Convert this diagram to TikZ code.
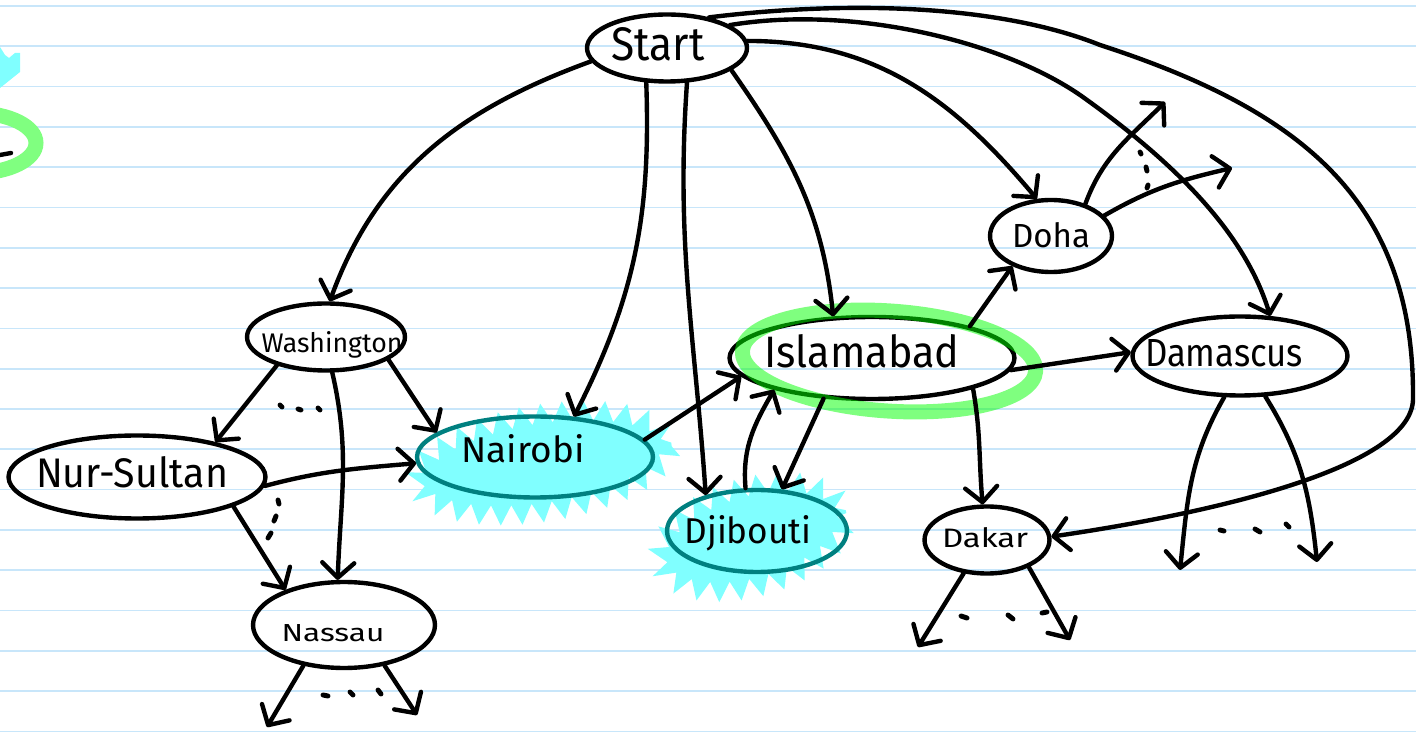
\documentclass[tikz,border=0pt]{standalone}
\usepackage{fontspec}
\setmainfont{Fira Sans}
\usepackage{graphicx}
\usetikzlibrary{arrows.meta,shapes.geometric,decorations.pathmorphing}
\definecolor{paperline}{RGB}{200,230,250}
\definecolor{hlcyan}{RGB}{128,255,255}
\definecolor{hlteal}{RGB}{0,128,128}
\definecolor{hlgreen}{RGB}{0,255,0}
\definecolor{hlgreenlight}{RGB}{128,255,128}
\begin{document}
\begin{tikzpicture}[x=0.02cm,y=-0.02cm,
  city/.style={ellipse, draw, line width=2.5pt, inner sep=0pt},
  lbl/.style={anchor=base, inner sep=0pt},
  edge/.style={line width=2.5pt, line cap=round, line join=round,
    -{Straight Barb[length=3mm,width=6.4mm,round]}},
  dotmark/.style={line width=2.8pt, line cap=round},
  scribble/.style={hlcyan, decorate, decoration={zigzag, segment length=0.42cm, amplitude=0.2cm}},
]
\useasboundingbox (0,0) rectangle (1416,732);
\fill[white] (0,0) rectangle (1416,732);
% ruled paper
\foreach \k in {0,...,18} \draw[paperline, line width=1pt] (0,{6+40.3*\k}) -- (1416,{6+40.3*\k});

% left-edge fragments
\fill[hlcyan] (0,47) -- (5,55) -- (9,58) -- (15,53) -- (20,53) -- (20,72) -- (0,88) -- cycle;
\draw[hlgreenlight, line width=0.3cm] (-24,143) ellipse [x radius=1.2cm, y radius=0.6cm];
\draw[line width=2.5pt, line cap=round] (0,155) -- (11,153);

% cyan highlights
\fill[scribble, rotate around={9:(543,463)}] (543,463) ellipse [x radius=2.6cm, y radius=0.98cm];
\fill[scribble, rotate around={16:(752,537)}] (752,537) ellipse [x radius=1.95cm, y radius=1cm];

% nodes
\node[city, minimum width=3.2cm, minimum height=1.34cm] (start) at (667,48) {};
\node[city, minimum width=3.16cm, minimum height=1.34cm] (wash) at (326,337) {};
\node[city, minimum width=5.14cm, minimum height=1.66cm] (nur) at (137,477) {};
\node[city, minimum width=3.64cm, minimum height=1.72cm] (nassau) at (344,625) {};
\node[city, draw=hlteal, minimum width=4.72cm, minimum height=1.62cm] (nairobi) at (535,457) {};
\node[city, draw=hlteal, minimum width=3.6cm, minimum height=1.64cm] (djib) at (757,531) {};
\node[city, minimum width=5.7cm, minimum height=1.64cm] (isl) at (872,358) {};
\node[city, minimum width=2.44cm, minimum height=1.44cm] (doha) at (1051,236) {};
\node[city, minimum width=4.3cm, minimum height=1.58cm] (dam) at (1240,356) {};
\node[city, minimum width=2.5cm, minimum height=1.34cm] (dakar) at (987,540) {};

% green highlight round Islamabad
\draw[hlgreen, opacity=.5, line width=0.3cm, rotate around={-4:(889,361)}] (889,361) ellipse [x radius=2.94cm, y radius=1cm];

% labels
\node[lbl] (tstart) at (658,61) {\resizebox{1.86cm}{0.66cm}{Start}};
\node[lbl] (twash) at (332,353) {\resizebox{2.82cm}{0.42cm}{Washington}};
\node[lbl] (tnur) at (132,488) {\resizebox{3.84cm}{0.62cm}{Nur-Sultan}};
\node[lbl] (tnassau) at (333,642) {\resizebox{2.06cm}{0.34cm}{Nassau}};
\node[lbl] (tnairobi) at (523,463) {\resizebox{2.46cm}{0.56cm}{Nairobi}};
\node[lbl] (tdjib) at (748,543) {\resizebox{2.54cm}{0.56cm}{Djibouti}};
\node[lbl] (tisl) at (862,368) {\resizebox{3.9cm}{0.66cm}{Islamabad}};
\node[lbl] (tdoha) at (1051,248) {\resizebox{1.56cm}{0.5cm}{Doha}};
\node[lbl] (tdam) at (1224,367) {\resizebox{3.16cm}{0.54cm}{Damascus}};
\node[lbl] (tdakar) at (985,548) {\resizebox{1.72cm}{0.4cm}{Dakar}};

% free ends
\coordinate (dohaUp) at (1165,102);
\coordinate (dohaRt) at (1232,168);
\coordinate (damL) at (1180,570);
\coordinate (damR) at (1317,562);
\coordinate (dakL) at (918,647);
\coordinate (dakR) at (1070,640);
\coordinate (nasL) at (267,727);
\coordinate (nasR) at (417,715);

% edges from Start
\draw[edge] (start.190) to[out=200,in=70] (wash.84);
\draw[edge] (start.239) to[out=272,in=63] (nairobi.46);
\draw[edge] (start.300) to[out=266,in=94] (djib.145);
\draw[edge] (start.341) to[out=305,in=96] (isl.133);
\draw[edge] (start.5) to[out=0,in=130] (doha.111);
\draw[edge] (start.20) .. controls (850,5) and (1000,40) .. (1080,95) .. controls (1200,180) and (1250,250) .. (dam.53);
\draw[edge] (start.36) .. controls (850,0) and (1000,5) .. (1100,45) .. controls (1300,110) and (1415,200) .. (1413,400) .. controls (1410,470) and (1200,515) .. (dakar.3);

% other edges
\draw[edge] (wash.210) -- (nur.24);
\draw[edge] (wash.280) to[out=283,in=88] (nassau.98);
\draw[edge] (wash.340) -- (nairobi.166);
\draw[edge] (nur.356) to[out=15,in=185] (nairobi.183);
\draw[edge] (nur.343) -- (nassau.149);
\draw[edge] (nairobi.9) -- (isl.188);
\draw[edge] (djib.105) to[out=95,in=240] (isl.198);
\draw[edge] (isl.220) -- (djib.59);
\draw[edge] (isl.18) -- (doha.218);
\draw[edge] (isl.355) -- (dam.178);
\draw[edge] (isl.343) to[out=280,in=95] (dakar.97);
\draw[edge] (doha.43) to[out=70,in=225] (dohaUp);
\draw[edge] (doha.21) to[out=30,in=193] (dohaRt);
\draw[edge] (dam.249) to[out=240,in=84] (damL);
\draw[edge] (dam.302) to[out=302,in=96] (damR);
\draw[edge] (dakar.235) -- (dakL);
\draw[edge] (dakar.327) -- (dakR);
\draw[edge] (nassau.225) -- (nasL);
\draw[edge] (nassau.315) -- (nasR);

% ellipsis dots
\draw[dotmark] (280,405) -- (282,407);
\draw[dotmark] (298,409) -- (301,410);
\draw[dotmark] (318,408) -- (320,410);
\draw[dotmark] (278,500) -- (279,504);
\draw[dotmark] (276,516) -- (274,521);
\draw[dotmark] (271,533) -- (268,538);
\draw[dotmark] (323,695) -- (328,696);
\draw[dotmark] (350,692) -- (353,695);
\draw[dotmark] (378,690) -- (381,694);
\draw[dotmark] (1140,152) -- (1141,154);
\draw[dotmark] (1146,167) -- (1147,171);
\draw[dotmark] (1148,185) -- (1147,188);
\draw[dotmark] (1220,530) -- (1224,531);
\draw[dotmark] (1255,529) -- (1260,532);
\draw[dotmark] (1286,524) -- (1289,527);
\draw[dotmark] (961,616) -- (967,618);
\draw[dotmark] (1008,615) -- (1013,619);
\draw[dotmark] (1042,613) -- (1047,612);
\end{tikzpicture}
\end{document}
